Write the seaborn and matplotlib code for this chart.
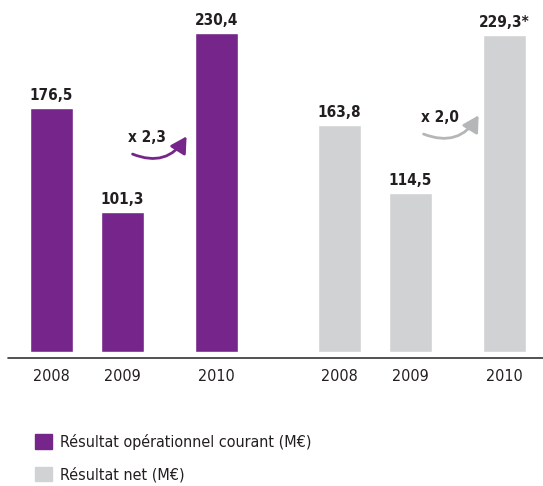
import matplotlib
matplotlib.use("Agg")
import matplotlib.pyplot as plt
import numpy as np
import pandas as pd
import seaborn as sns
from matplotlib.patches import Patch

years = ["2008", "2009", "2010"]
roc_values = [176.5, 101.3, 230.4]
net_values = [163.8, 114.5, 229.3]
net_suffix = ["", "", "*"]
ratio_labels = ["x 2,3", "x 2,0"]
series_names = ["Résultat opérationnel courant (M€)", "Résultat net (M€)"]

PURPLE = "#76268a"
GREY = "#d1d2d4"
ARROW_GREY = "#b5b6b8"
TEXT = "#231f20"

# layout (pixel-like x coordinates)
x_pos = [51.5, 122.5, 216.5, 339.5, 410.5, 504.5]
px_per_unit = 1.3846

sns.set_theme(style="white")
plt.rcParams["font.family"] = ["DejaVu Sans"]
plt.rcParams["font.stretch"] = "condensed"

df = pd.DataFrame({
    "pos": x_pos,
    "value": roc_values + net_values,
    "series": [series_names[0]] * 3 + [series_names[1]] * 3,
})

fig = plt.figure(figsize=(5.43, 4.86), dpi=100)
ax = fig.add_axes([0, 128 / 486, 1, 358 / 486])

sns.barplot(data=df, x="pos", y="value", hue="series", palette=[PURPLE, GREY],
            native_scale=True, dodge=False, width=43 / 71, saturation=1,
            legend=False, ax=ax)

y_bottom = -6 / px_per_unit
y_top = 352 / px_per_unit
ax.set_xlim(0, 543)
ax.set_ylim(y_bottom, y_top)
ax.axhline(y_bottom, xmin=8 / 543, xmax=1, color="#333333", lw=1.2, clip_on=False)
for s in ax.spines.values():
    s.set_visible(False)
ax.set_xticks(x_pos)
ax.set_xticklabels(years + years, fontsize=11.5, color=TEXT)
ax.tick_params(axis="x", length=0, pad=8)
ax.set_yticks([])
ax.set_xlabel("")
ax.set_ylabel("")

labels = [f"{v:.1f}".replace(".", ",") for v in roc_values] + \
         [f"{v:.1f}".replace(".", ",") + s for v, s in zip(net_values, net_suffix)]
for x, v, lab in zip(x_pos, roc_values + net_values, labels):
    ax.text(x, v + 5 / px_per_unit, lab, ha="center", va="bottom",
            fontsize=11, fontweight="bold", color=TEXT)


def py(p):
    return (352 - p) / px_per_unit


# growth arrows
arrows = [
    (ratio_labels[0], PURPLE, (147, 137), (130, 153), (188, 134)),
    (ratio_labels[1], ARROW_GREY, (440, 117), (421, 133), (480, 113)),
]
for lab, col, tpos, start, end in arrows:
    ax.text(tpos[0], py(tpos[1]), lab, ha="center", va="center",
            fontsize=11, fontweight="bold", color=TEXT)
    ax.annotate("", xy=(end[0], py(end[1])), xytext=(start[0], py(start[1])),
                arrowprops=dict(arrowstyle="-|>,head_length=0.8,head_width=0.45",
                                connectionstyle="arc3,rad=0.45", color=col, lw=2.0))

handles = [Patch(color=PURPLE), Patch(color=GREY)]
fig.legend(handles, series_names, loc="upper left", bbox_to_anchor=(22 / 543, 1 - 421 / 486),
           frameon=False, fontsize=11.5, handlelength=1.05, handleheight=1.05,
           labelspacing=1.05, handletextpad=0.5, borderpad=0.3, labelcolor=TEXT)

fig.savefig("out.png", dpi=100)
